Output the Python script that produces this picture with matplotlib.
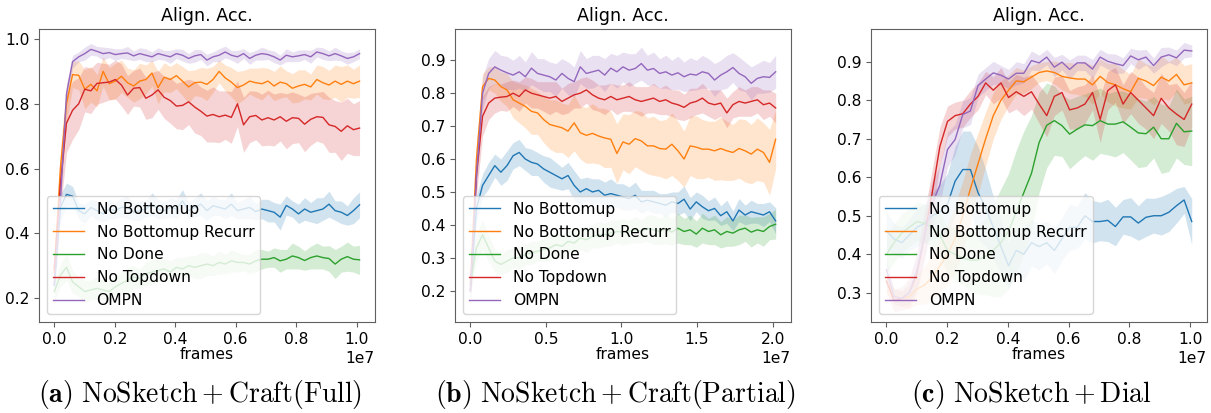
import numpy as np
import matplotlib
matplotlib.use('Agg')
import matplotlib.pyplot as plt

plt.rcParams['font.size'] = 11.2
plt.rcParams['mathtext.fontset'] = 'cm'
plt.rcParams['axes.edgecolor'] = '#606060'
plt.rcParams['xtick.color'] = '#606060'
plt.rcParams['ytick.color'] = '#606060'
plt.rcParams['xtick.labelcolor'] = 'black'
plt.rcParams['ytick.labelcolor'] = 'black'

labels = ['No Bottomup', 'No Bottomup Recurr', 'No Done', 'No Topdown', 'OMPN']
colors = ['#1f77b4', '#ff7f0e', '#2ca02c', '#d62728', '#9467bd']

# (a) NoSketch + Craft(Full)
a_frames = np.linspace(0, 1.01e7, 51)
a_bottomup = [0.24, 0.48, 0.52, 0.515, 0.47, 0.46, 0.48, 0.47, 0.46, 0.475,
              0.47, 0.48, 0.48, 0.465, 0.47, 0.475, 0.49, 0.475, 0.47, 0.48,
              0.475, 0.50, 0.47, 0.48, 0.49, 0.47, 0.485, 0.48, 0.475, 0.49,
              0.47, 0.475, 0.48, 0.467, 0.475, 0.47, 0.465, 0.45, 0.486, 0.475,
              0.46, 0.475, 0.465, 0.47, 0.475, 0.49, 0.47, 0.465, 0.455, 0.47,
              0.488]
a_bottomup_sd = [0.03, 0.04, 0.035, 0.03, 0.025, 0.03, 0.025, 0.03, 0.025, 0.03,
                 0.025, 0.03, 0.035, 0.025, 0.03, 0.025, 0.035, 0.03, 0.025, 0.03,
                 0.03, 0.035, 0.025, 0.03, 0.035, 0.03, 0.03, 0.025, 0.03, 0.035,
                 0.025, 0.03, 0.035, 0.025, 0.03, 0.035, 0.03, 0.04, 0.03, 0.025,
                 0.03, 0.035, 0.03, 0.04, 0.035, 0.04, 0.03, 0.035, 0.03, 0.04,
                 0.04]
a_recurr = [0.28, 0.60, 0.80, 0.89, 0.888, 0.845, 0.86, 0.84, 0.90, 0.862,
            0.87, 0.885, 0.865, 0.855, 0.87, 0.875, 0.895, 0.85, 0.882, 0.875,
            0.887, 0.87, 0.852, 0.865, 0.867, 0.86, 0.875, 0.90, 0.88, 0.867,
            0.85, 0.858, 0.87, 0.865, 0.862, 0.87, 0.855, 0.867, 0.862, 0.848,
            0.855, 0.86, 0.852, 0.875, 0.865, 0.858, 0.87, 0.86, 0.87, 0.862,
            0.87]
a_recurr_sd = [0.03, 0.06, 0.06, 0.04, 0.045, 0.06, 0.055, 0.05, 0.045, 0.05,
               0.055, 0.05, 0.045, 0.05, 0.055, 0.045, 0.04, 0.05, 0.045, 0.04,
               0.04, 0.045, 0.05, 0.04, 0.045, 0.05, 0.04, 0.035, 0.04, 0.045,
               0.05, 0.045, 0.04, 0.045, 0.05, 0.04, 0.045, 0.05, 0.04, 0.045,
               0.05, 0.045, 0.04, 0.045, 0.05, 0.045, 0.05, 0.055, 0.05, 0.045,
               0.05]
a_done = [0.22, 0.27, 0.295, 0.25, 0.235, 0.22, 0.225, 0.23, 0.225, 0.22,
          0.235, 0.245, 0.255, 0.265, 0.26, 0.275, 0.28, 0.285, 0.29, 0.28,
          0.295, 0.29, 0.30, 0.295, 0.30, 0.305, 0.30, 0.31, 0.305, 0.315,
          0.31, 0.31, 0.305, 0.315, 0.32, 0.32, 0.325, 0.315, 0.32, 0.33,
          0.325, 0.316, 0.325, 0.33, 0.325, 0.322, 0.305, 0.32, 0.328, 0.32,
          0.318]
a_done_sd = [0.03, 0.035, 0.04, 0.035, 0.03, 0.035, 0.03, 0.035, 0.03, 0.035,
             0.03, 0.035, 0.04, 0.035, 0.03, 0.035, 0.04, 0.035, 0.03, 0.035,
             0.03, 0.035, 0.03, 0.035, 0.04, 0.035, 0.03, 0.035, 0.03, 0.035,
             0.03, 0.025, 0.03, 0.035, 0.03, 0.025, 0.03, 0.035, 0.03, 0.04,
             0.035, 0.03, 0.035, 0.04, 0.035, 0.04, 0.045, 0.04, 0.045, 0.04,
             0.045]
a_topdown = [0.29, 0.55, 0.74, 0.78, 0.80, 0.845, 0.84, 0.863, 0.865, 0.867,
             0.875, 0.858, 0.827, 0.848, 0.85, 0.817, 0.827, 0.843, 0.82, 0.81,
             0.793, 0.795, 0.806, 0.79, 0.777, 0.762, 0.767, 0.76, 0.765, 0.758,
             0.80, 0.735, 0.76, 0.764, 0.75, 0.757, 0.75, 0.76, 0.746, 0.757,
             0.755, 0.737, 0.752, 0.76, 0.758, 0.735, 0.73, 0.715, 0.732, 0.72,
             0.725]
a_topdown_sd = [0.03, 0.08, 0.09, 0.09, 0.08, 0.07, 0.07, 0.065, 0.06, 0.055,
                0.06, 0.065, 0.06, 0.055, 0.06, 0.065, 0.07, 0.06, 0.065, 0.07,
                0.07, 0.075, 0.07, 0.08, 0.075, 0.08, 0.085, 0.08, 0.075, 0.08,
                0.07, 0.085, 0.08, 0.075, 0.08, 0.085, 0.08, 0.075, 0.085, 0.08,
                0.075, 0.085, 0.08, 0.075, 0.08, 0.085, 0.08, 0.09, 0.085, 0.08,
                0.085]
a_ompn = [0.24, 0.50, 0.83, 0.93, 0.945, 0.955, 0.968, 0.962, 0.955, 0.958,
          0.952, 0.955, 0.957, 0.948, 0.955, 0.95, 0.945, 0.955, 0.95, 0.945,
          0.955, 0.95, 0.94, 0.948, 0.952, 0.935, 0.945, 0.95, 0.96, 0.95,
          0.945, 0.955, 0.94, 0.95, 0.955, 0.952, 0.945, 0.935, 0.95, 0.945,
          0.948, 0.952, 0.945, 0.96, 0.955, 0.948, 0.955, 0.948, 0.94, 0.945,
          0.955]
a_ompn_sd = [0.02, 0.04, 0.03, 0.02, 0.015, 0.02, 0.018, 0.015, 0.02, 0.015,
             0.018, 0.015, 0.02, 0.015, 0.018, 0.02, 0.015, 0.018, 0.015, 0.02,
             0.015, 0.018, 0.015, 0.02, 0.015, 0.018, 0.015, 0.02, 0.018, 0.015,
             0.02, 0.015, 0.018, 0.015, 0.02, 0.015, 0.018, 0.015, 0.02, 0.015,
             0.018, 0.015, 0.02, 0.015, 0.018, 0.015, 0.02, 0.015, 0.018, 0.015,
             0.015]

# (b) NoSketch + Craft(Partial)
b_frames = np.linspace(0, 2.02e7, 51)
b_bottomup = [0.20, 0.45, 0.52, 0.55, 0.58, 0.56, 0.58, 0.61, 0.62, 0.60,
              0.59, 0.585, 0.57, 0.56, 0.55, 0.54, 0.55, 0.52, 0.50, 0.51,
              0.50, 0.505, 0.49, 0.495, 0.49, 0.485, 0.48, 0.49, 0.47, 0.475,
              0.47, 0.465, 0.46, 0.47, 0.465, 0.478, 0.448, 0.47, 0.455, 0.443,
              0.45, 0.428, 0.44, 0.412, 0.445, 0.43, 0.44, 0.435, 0.43, 0.44,
              0.412]
b_bottomup_sd = [0.03, 0.04, 0.035, 0.04, 0.035, 0.04, 0.045, 0.04, 0.04, 0.035,
                 0.04, 0.035, 0.04, 0.045, 0.04, 0.035, 0.04, 0.045, 0.04, 0.035,
                 0.04, 0.035, 0.04, 0.045, 0.035, 0.04, 0.035, 0.04, 0.035, 0.03,
                 0.035, 0.03, 0.035, 0.03, 0.035, 0.04, 0.035, 0.03, 0.035, 0.03,
                 0.035, 0.03, 0.035, 0.03, 0.035, 0.03, 0.035, 0.03, 0.035, 0.03,
                 0.04]
b_recurr = [0.22, 0.60, 0.82, 0.845, 0.84, 0.82, 0.81, 0.78, 0.77, 0.76,
            0.745, 0.74, 0.72, 0.705, 0.70, 0.695, 0.685, 0.71, 0.68, 0.672,
            0.678, 0.67, 0.664, 0.66, 0.617, 0.652, 0.645, 0.662, 0.655, 0.64,
            0.64, 0.632, 0.63, 0.645, 0.625, 0.60, 0.64, 0.636, 0.63, 0.63,
            0.625, 0.632, 0.625, 0.62, 0.632, 0.625, 0.615, 0.63, 0.62, 0.59,
            0.66]
b_recurr_sd = [0.03, 0.05, 0.04, 0.035, 0.04, 0.045, 0.05, 0.055, 0.06, 0.065,
               0.07, 0.065, 0.07, 0.075, 0.08, 0.075, 0.08, 0.085, 0.08, 0.085,
               0.09, 0.085, 0.09, 0.085, 0.09, 0.085, 0.09, 0.085, 0.09, 0.085,
               0.09, 0.085, 0.09, 0.095, 0.09, 0.085, 0.09, 0.095, 0.09, 0.085,
               0.09, 0.095, 0.09, 0.085, 0.09, 0.095, 0.09, 0.095, 0.09, 0.1,
               0.09]
b_done = [0.22, 0.33, 0.37, 0.33, 0.29, 0.28, 0.29, 0.30, 0.30, 0.31,
          0.315, 0.32, 0.325, 0.33, 0.34, 0.335, 0.35, 0.345, 0.36, 0.355,
          0.365, 0.37, 0.37, 0.375, 0.38, 0.378, 0.38, 0.385, 0.38, 0.39,
          0.385, 0.38, 0.388, 0.378, 0.39, 0.38, 0.385, 0.372, 0.39, 0.38,
          0.385, 0.37, 0.38, 0.375, 0.385, 0.39, 0.378, 0.385, 0.38, 0.395,
          0.402]
b_done_sd = [0.03, 0.04, 0.045, 0.04, 0.035, 0.03, 0.035, 0.03, 0.035, 0.03,
             0.035, 0.03, 0.035, 0.04, 0.035, 0.04, 0.035, 0.04, 0.035, 0.04,
             0.035, 0.04, 0.035, 0.04, 0.035, 0.04, 0.035, 0.04, 0.035, 0.04,
             0.045, 0.04, 0.045, 0.04, 0.045, 0.04, 0.045, 0.04, 0.045, 0.04,
             0.045, 0.04, 0.045, 0.04, 0.045, 0.04, 0.045, 0.04, 0.045, 0.04,
             0.045]
b_topdown = [0.20, 0.55, 0.73, 0.77, 0.785, 0.788, 0.79, 0.80, 0.79, 0.81,
             0.80, 0.795, 0.79, 0.785, 0.79, 0.775, 0.785, 0.795, 0.80, 0.81,
             0.795, 0.785, 0.78, 0.79, 0.78, 0.785, 0.79, 0.78, 0.775, 0.78,
             0.785, 0.775, 0.78, 0.77, 0.765, 0.757, 0.77, 0.775, 0.785, 0.77,
             0.765, 0.77, 0.74, 0.765, 0.775, 0.77, 0.775, 0.78, 0.765, 0.77,
             0.755]
b_topdown_sd = [0.03, 0.06, 0.06, 0.05, 0.045, 0.04, 0.045, 0.04, 0.045, 0.04,
                0.045, 0.04, 0.045, 0.05, 0.045, 0.04, 0.045, 0.04, 0.045, 0.04,
                0.045, 0.04, 0.045, 0.04, 0.045, 0.04, 0.045, 0.04, 0.045, 0.04,
                0.045, 0.04, 0.045, 0.04, 0.045, 0.04, 0.045, 0.04, 0.045, 0.04,
                0.045, 0.04, 0.045, 0.04, 0.045, 0.04, 0.045, 0.04, 0.045, 0.04,
                0.045]
b_ompn = [0.20, 0.55, 0.80, 0.86, 0.88, 0.87, 0.862, 0.855, 0.865, 0.85,
          0.876, 0.86, 0.855, 0.85, 0.84, 0.86, 0.845, 0.835, 0.88, 0.86,
          0.865, 0.87, 0.855, 0.876, 0.865, 0.88, 0.87, 0.875, 0.89, 0.87,
          0.875, 0.86, 0.865, 0.855, 0.862, 0.85, 0.858, 0.855, 0.865, 0.86,
          0.84, 0.855, 0.865, 0.878, 0.86, 0.85, 0.83, 0.845, 0.85, 0.848,
          0.865]
b_ompn_sd = [0.03, 0.05, 0.05, 0.045, 0.05, 0.045, 0.05, 0.045, 0.05, 0.045,
             0.05, 0.045, 0.05, 0.045, 0.05, 0.045, 0.05, 0.045, 0.05, 0.045,
             0.05, 0.045, 0.05, 0.045, 0.05, 0.045, 0.05, 0.045, 0.05, 0.045,
             0.05, 0.045, 0.05, 0.045, 0.05, 0.045, 0.05, 0.045, 0.05, 0.045,
             0.05, 0.045, 0.05, 0.045, 0.05, 0.045, 0.05, 0.045, 0.05, 0.045,
             0.05]

# (c) NoSketch + Dial
c_frames = np.linspace(0, 1.005e7, 41)
c_bottomup = [0.46, 0.44, 0.43, 0.45, 0.47, 0.48, 0.50, 0.51, 0.53, 0.59,
              0.62, 0.62, 0.56, 0.52, 0.47, 0.42, 0.37, 0.41, 0.40, 0.43,
              0.42, 0.43, 0.41, 0.44, 0.47, 0.47, 0.50, 0.485, 0.485, 0.488,
              0.472, 0.497, 0.497, 0.481, 0.496, 0.50, 0.50, 0.509, 0.526, 0.541,
              0.485]
c_bottomup_sd = [0.05, 0.04, 0.04, 0.04, 0.05, 0.05, 0.06, 0.07, 0.08, 0.09,
                 0.10, 0.10, 0.12, 0.10, 0.08, 0.07, 0.06, 0.06, 0.07, 0.06,
                 0.06, 0.055, 0.06, 0.055, 0.06, 0.055, 0.06, 0.055, 0.05, 0.055,
                 0.05, 0.045, 0.05, 0.045, 0.05, 0.045, 0.05, 0.05, 0.045, 0.035,
                 0.06]
c_recurr = [0.33, 0.29, 0.285, 0.29, 0.31, 0.32, 0.34, 0.37, 0.40, 0.44,
            0.50, 0.57, 0.635, 0.70, 0.76, 0.80, 0.826, 0.85, 0.848, 0.86,
            0.872, 0.876, 0.872, 0.862, 0.858, 0.855, 0.855, 0.84, 0.862, 0.846,
            0.84, 0.83, 0.822, 0.857, 0.85, 0.838, 0.86, 0.85, 0.867, 0.84,
            0.845]
c_recurr_sd = [0.03, 0.02, 0.02, 0.03, 0.04, 0.05, 0.06, 0.07, 0.08, 0.09,
               0.09, 0.09, 0.08, 0.07, 0.06, 0.05, 0.04, 0.035, 0.03, 0.03,
               0.025, 0.025, 0.03, 0.035, 0.04, 0.04, 0.045, 0.05, 0.045, 0.05,
               0.055, 0.05, 0.045, 0.05, 0.045, 0.05, 0.055, 0.05, 0.045, 0.05,
               0.05]
c_done = [0.40, 0.43, 0.455, 0.47, 0.485, 0.48, 0.47, 0.45, 0.41, 0.40,
          0.39, 0.385, 0.385, 0.395, 0.41, 0.43, 0.46, 0.51, 0.56, 0.61,
          0.69, 0.735, 0.747, 0.734, 0.712, 0.725, 0.736, 0.734, 0.747, 0.738,
          0.738, 0.744, 0.73, 0.715, 0.713, 0.73, 0.70, 0.70, 0.74, 0.718,
          0.72]
c_done_sd = [0.05, 0.05, 0.05, 0.05, 0.05, 0.05, 0.05, 0.06, 0.06, 0.07,
             0.07, 0.08, 0.09, 0.10, 0.12, 0.14, 0.15, 0.16, 0.16, 0.15,
             0.13, 0.11, 0.09, 0.08, 0.09, 0.085, 0.08, 0.09, 0.085, 0.08,
             0.085, 0.08, 0.085, 0.09, 0.085, 0.08, 0.09, 0.085, 0.09, 0.085,
             0.09]
c_topdown = [0.33, 0.28, 0.285, 0.30, 0.35, 0.45, 0.56, 0.68, 0.745, 0.76,
             0.765, 0.79, 0.81, 0.845, 0.826, 0.845, 0.807, 0.822, 0.81, 0.822,
             0.79, 0.76, 0.81, 0.82, 0.775, 0.78, 0.79, 0.82, 0.75, 0.825,
             0.84, 0.79, 0.82, 0.80, 0.78, 0.76, 0.805, 0.78, 0.764, 0.75,
             0.79]
c_topdown_sd = [0.03, 0.03, 0.03, 0.04, 0.05, 0.06, 0.06, 0.05, 0.04, 0.035,
                0.035, 0.035, 0.035, 0.03, 0.035, 0.04, 0.04, 0.045, 0.05, 0.045,
                0.05, 0.055, 0.05, 0.045, 0.05, 0.055, 0.05, 0.045, 0.06, 0.05,
                0.045, 0.05, 0.055, 0.06, 0.055, 0.06, 0.065, 0.06, 0.08, 0.07,
                0.06]
c_ompn = [0.36, 0.29, 0.285, 0.30, 0.36, 0.45, 0.53, 0.58, 0.672, 0.698,
          0.763, 0.772, 0.838, 0.855, 0.871, 0.865, 0.855, 0.87, 0.87, 0.903,
          0.897, 0.912, 0.886, 0.899, 0.88, 0.897, 0.897, 0.881, 0.912, 0.901,
          0.895, 0.89, 0.915, 0.905, 0.912, 0.89, 0.912, 0.918, 0.91, 0.93,
          0.928]
c_ompn_sd = [0.03, 0.02, 0.02, 0.03, 0.05, 0.06, 0.06, 0.05, 0.045, 0.04,
             0.035, 0.035, 0.03, 0.03, 0.03, 0.025, 0.025, 0.03, 0.025, 0.025,
             0.02, 0.02, 0.025, 0.02, 0.025, 0.02, 0.02, 0.025, 0.02, 0.02,
             0.025, 0.02, 0.02, 0.025, 0.02, 0.02, 0.025, 0.02, 0.02, 0.02,
             0.015]

panels = [
    (a_frames, [(a_bottomup, a_bottomup_sd), (a_recurr, a_recurr_sd), (a_done, a_done_sd),
                (a_topdown, a_topdown_sd), (a_ompn, a_ompn_sd)],
     (0.126, 1.031), [0.2, 0.4, 0.6, 0.8, 1.0]),
    (b_frames, [(b_bottomup, b_bottomup_sd), (b_recurr, b_recurr_sd), (b_done, b_done_sd),
                (b_topdown, b_topdown_sd), (b_ompn, b_ompn_sd)],
     (0.105, 0.995), [0.2, 0.3, 0.4, 0.5, 0.6, 0.7, 0.8, 0.9]),
    (c_frames, [(c_bottomup, c_bottomup_sd), (c_recurr, c_recurr_sd), (c_done, c_done_sd),
                (c_topdown, c_topdown_sd), (c_ompn, c_ompn_sd)],
     (0.224, 0.985), [0.3, 0.4, 0.5, 0.6, 0.7, 0.8, 0.9]),
]
captions = [r'$\mathbf{(a)}\ \mathrm{NoSketch + Craft(Full)}$',
            r'$\mathbf{(b)}\ \mathrm{NoSketch + Craft(Partial)}$',
            r'$\mathbf{(c)}\ \mathrm{NoSketch + Dial}$']

fig, axes = plt.subplots(1, 3, figsize=(12.11, 4.13), dpi=100)
fig.subplots_adjust(left=0.0322, right=0.9967, bottom=0.2203, top=0.9298, wspace=0.239)

for ax, (frames, series, ylim, yticks), cap in zip(axes, panels, captions):
    for (mean, sd), lab, col in zip(series, labels, colors):
        mean = np.array(mean)
        sd = np.array(sd)
        ax.plot(frames, mean, color=col, lw=1.0, label=lab)
        ax.fill_between(frames, mean - sd, mean + sd, color=col, alpha=0.2, lw=0)
    ax.set_ylim(*ylim)
    ax.set_yticks(yticks)
    ax.set_title('Align. Acc.', fontsize=12.6, color='black')
    ax.set_xlabel('frames', labelpad=0)
    ax.legend(loc='lower left')
    pos = ax.get_position()
    fig.text((pos.x0 + pos.x1) / 2 - 0.006, 0.044, cap, ha='center', va='center', fontsize=20)

fig.savefig('out.png', dpi=100)
